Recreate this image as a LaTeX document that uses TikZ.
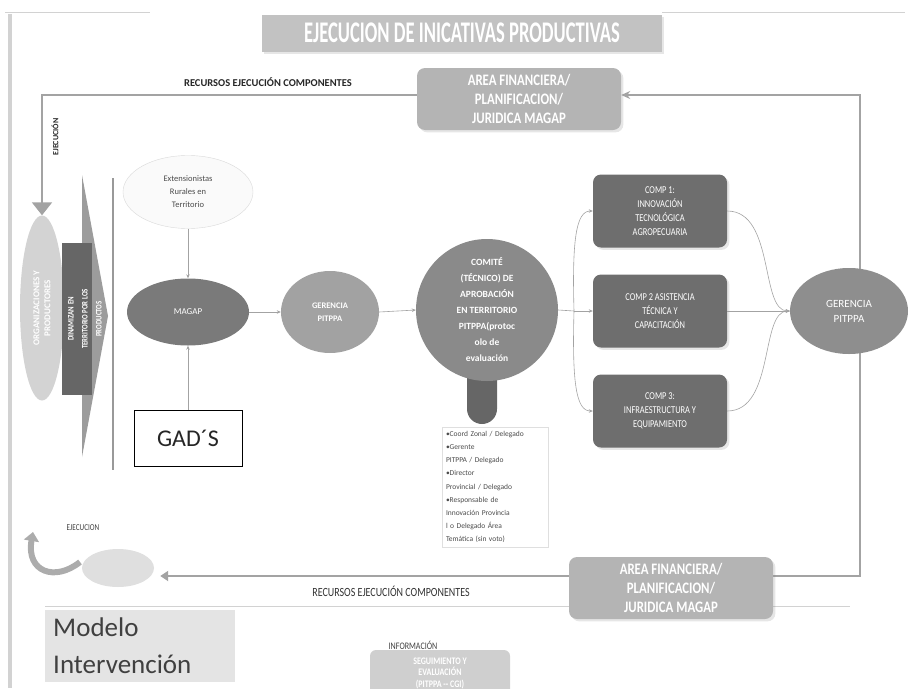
\documentclass[tikz,border=0pt]{standalone}
\usepackage{fontspec}
\setmainfont{Carlito}
\newfontfamily\narrowfont[FakeStretch=0.8]{Carlito}
\newfontfamily\condfont[FakeStretch=0.62]{Carlito}
\usetikzlibrary{arrows.meta,
                shapes.geometric,
                shadows,
                backgrounds}

\definecolor{titlefill}{HTML}{C2C2C2}
\definecolor{areafill}{HTML}{B4B4B4}
\definecolor{compfill}{HTML}{6E6E6E}
\definecolor{magapfill}{HTML}{7A7A7A}
\definecolor{gerfill}{HTML}{A2A2A2}
\definecolor{gerRfill}{HTML}{8E8E8E}
\definecolor{comitefill}{HTML}{8A8A8A}
\definecolor{orgfill}{HTML}{D3D3D3}
\definecolor{barfill}{HTML}{666666}
\definecolor{wedgefill}{HTML}{9C9C9C}
\definecolor{lightfill}{HTML}{DFDFDF}
\definecolor{modelfill}{HTML}{E4E4E4}
\definecolor{linegray}{HTML}{A3A3A3}

\begin{document}
\begin{tikzpicture}[x=1pt, y=-1pt,
    conn/.style = {draw=linegray, line width=0.6pt, -{Stealth[length=4pt,width=3.5pt]}},
    loopline/.style = {draw=linegray, line width=2pt},
    areabox/.style = {rectangle, rounded corners=8pt, fill=areafill, text=white,
        minimum width=204pt, minimum height=62pt, align=center,
        font=\narrowfont\bfseries\fontsize{16}{19}\selectfont, drop shadow={opacity=0.2}},
    compbox/.style = {rectangle, rounded corners=8pt, fill=compfill, text=white,
        minimum width=134pt, minimum height=73pt, align=center,
        font=\narrowfont\fontsize{10.5}{14}\selectfont, drop shadow={opacity=0.2}},
    whiteoval/.style = {ellipse, text=white, align=center, inner sep=1pt}]

    \useasboundingbox (0,0) rectangle (909,688);

    % frame lines
    \draw[gray!35, line width=4pt] (10,14) -- (10,688);
    \draw[gray!35, line width=0.6pt] (5,12) -- (150,12);
    \draw[gray!35, line width=0.6pt] (662,12) -- (905,12);
    \draw[gray!35, line width=0.6pt] (45,606) -- (850,606);

    \node[fill=titlefill, text=white, minimum width=400pt, minimum height=37pt,
          font=\condfont\bfseries\fontsize{30}{32}\selectfont, drop shadow={opacity=0.2}]
          (title) at (462,33) {EJECUCION DE INICATIVAS PRODUCTIVAS};

    \node[areabox] (areaT) at (519,99) {AREA FINANCIERA/\\PLANIFICACION/\\JURIDICA MAGAP};
    \node[areabox] (areaB) at (671,588) {AREA FINANCIERA/\\PLANIFICACION/\\JURIDICA MAGAP};

    \node[font=\bfseries\fontsize{10.5}{12}\selectfont, text=black!85] (recT) at (268,82) {RECURSOS EJECUCIÓN COMPONENTES};
    \node[font=\narrowfont\fontsize{12.5}{14}\selectfont, text=black!80] (recB) at (391,591) {RECURSOS EJECUCIÓN COMPONENTES};

    % left column
    \fill[wedgefill] (82,175) -- (108,316) -- (82,457) -- cycle;
    \node[whiteoval, fill=orgfill, minimum width=185pt, minimum height=44pt, rotate=90,
          font=\bfseries\fontsize{9}{11}\selectfont] (org) at (42,308) {ORGANIZACIONES Y\\PRODUCTORES};
    \node[fill=barfill, minimum width=152pt, minimum height=30pt, rotate=90] (bar) at (77,319) {};
    \node[rotate=90, text=white, align=center, font=\narrowfont\bfseries\fontsize{8.5}{14}\selectfont]
          (bartext) at (85,319) {DINAMIZAN EN\\TERRITORIO POR LOS\\PRODUCTOS};
    \node[rotate=90, font=\bfseries\fontsize{8}{9}\selectfont, text=black!85] (ejecT) at (55,137) {EJECUCIÓN};
    \draw[gray!80, line width=2pt] (113,178) -- (113,470);

    \coordinate (tl) at (42,95);
    \coordinate (tr) at (860,95);
    \coordinate (br) at (860,576);

    % main row
    \node[ellipse, draw=gray!30, fill=gray!4, minimum width=130pt, minimum height=73pt, align=center,
          font=\fontsize{8.5}{13}\selectfont, text=black!70] (ext) at (188,192) {Extensionistas\\Rurales en\\Territorio};
    \node[whiteoval, fill=magapfill, minimum width=122pt, minimum height=67pt,
          font=\fontsize{9}{11}\selectfont] (magap) at (188,312) {MAGAP};
    \node[draw=black, line width=1pt, fill=white, minimum width=108pt, minimum height=56pt,
          font=\fontsize{24}{26}\selectfont, text=black!85] (gads) at (188,438) {GAD´S};
    \node[whiteoval, fill=gerfill, minimum width=98pt, minimum height=82pt,
          font=\bfseries\fontsize{8.5}{13}\selectfont] (gerM) at (330,312) {GERENCIA\\PITPPA};

    \fill[barfill, rounded corners=15pt] (467,350) rectangle (497,424);
    \node[circle, fill=comitefill, minimum size=142pt, inner sep=0pt, text=white, align=center,
          font=\bfseries\fontsize{9.5}{16}\selectfont] (comite) at (487,310)
          {COMITÉ\\(TÉCNICO) DE\\APROBACIÓN\\EN TERRITORIO\\PITPPA(protoc\\olo de\\evaluación};
    \node[draw=gray!25, fill=white, text width=98pt, align=left, inner sep=4pt,
          font=\fontsize{7.5}{13.2}\selectfont, text=black!70] (members) at (495,487)
          {•Coord Zonal / Delegado\\•Gerente\\PITPPA / Delegado\\•Director\\Provincial / Delegado\\•Responsable de\\Innovación Provincia\\l o Delegado Área\\Temática (sin voto)};

    \node[compbox] (comp1) at (660,211) {COMP 1:\\INNOVACIÓN\\TECNOLÓGICA\\AGROPECUARIA};
    \node[compbox] (comp2) at (660,311) {COMP 2 ASISTENCIA\\TÉCNICA Y\\CAPACITACIÓN};
    \node[compbox] (comp3) at (660,411) {COMP 3:\\INFRAESTRUCTURA Y\\EQUIPAMIENTO};
    \coordinate (fork) at (574,311);

    \node[whiteoval, fill=gerRfill, minimum width=118pt, minimum height=86pt,
          font=\fontsize{11}{15}\selectfont] (gerR) at (849,311) {GERENCIA\\PITPPA};

    % bottom
    \node[ellipse, fill=lightfill, minimum width=72pt, minimum height=38pt] (ellB) at (118,568) {};
    \node[font=\narrowfont\fontsize{9}{10}\selectfont, text=black!75] (ejecB) at (83,528) {EJECUCION};
    \node[fill=modelfill, text width=174pt, align=left, inner sep=8pt, anchor=north west,
          font=\fontsize{27}{37}\selectfont, text=black!75] (modelo) at (45,610) {Modelo\\Intervención};
    \node[font=\narrowfont\fontsize{10}{12}\selectfont, text=black!75] (info) at (413,645) {INFORMACIÓN};
    \node[rectangle, rounded corners=6pt, fill=gray!38, text=white, minimum width=140pt, minimum height=46pt,
          align=center, font=\narrowfont\bfseries\fontsize{10}{11.5}\selectfont] (seg) at (440,673)
          {SEGUIMIENTO Y\\EVALUACIÓN\\(PITPPA -- CGI)};

    % connectors
    \draw[conn] (ext.south) -- (magap.north);
    \draw[conn] (gads.north) -- (magap.south);
    \draw[conn] (magap.east) -- (gerM.west);
    \draw[conn] (gerM.east) -- (comite.west);
    \draw[conn, -] (comite.east) -- (fork);
    \draw[conn] (fork) -- (comp2.west);
    \draw[conn] (fork) .. controls (572,240) and (576,211) .. (comp1.west);
    \draw[conn] (fork) .. controls (572,382) and (576,411) .. (comp3.west);
    \draw[conn] (comp2.east) -- (gerR.west);
    \draw[conn] (comp1.east) .. controls (775,211) and (760,311) .. (gerR.west);
    \draw[conn] (comp3.east) .. controls (775,411) and (760,311) .. (gerR.west);

    \begin{scope}[on background layer]
        \draw[loopline, -{Stealth[length=9pt,width=8pt]}] (areaB.east |- br) -- (br) -- (tr) -- (areaT.east |- tr);
    \end{scope}
    \draw[loopline, -{Triangle[width=20pt,length=13pt]}] (areaT.west |- tl) -- (tl) -- (org.east);
    \draw[loopline, shorten >=6pt, -{Triangle[width=10pt,length=8pt]}] (areaB.west |- br) -- (ellB.east |- br);
    \draw[gray!65, line width=6pt, -{Triangle[width=15pt,length=9pt]}] (80,562) .. controls (55,582) and (26,572) .. (33,532);
\end{tikzpicture}
\end{document}
